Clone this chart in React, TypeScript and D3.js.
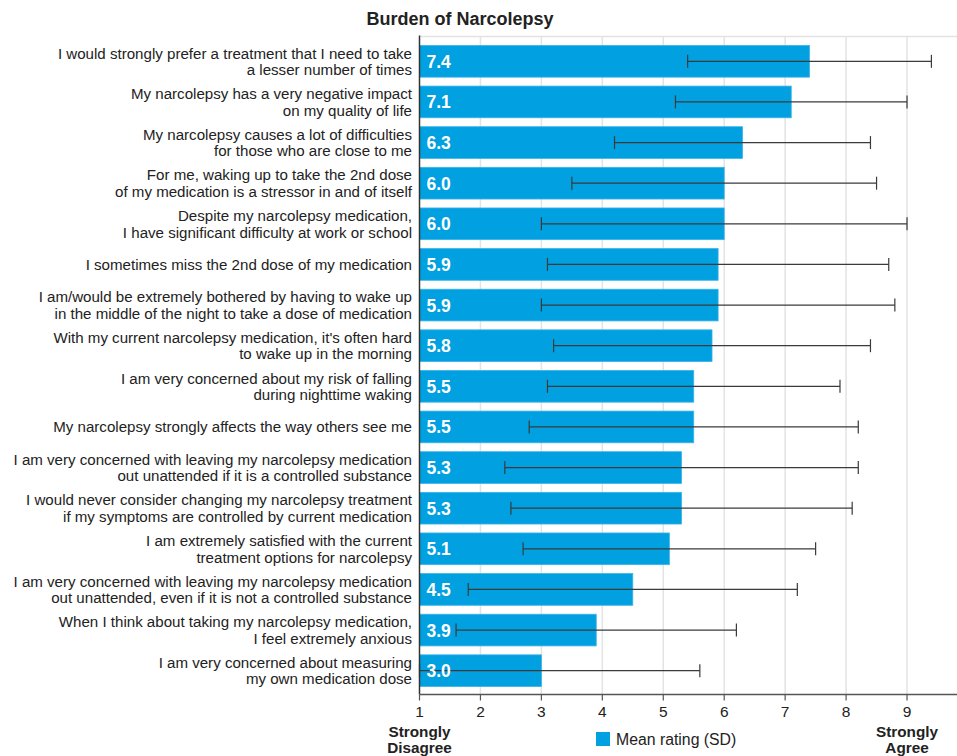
import React from "react";
import * as d3 from "d3";

const statements: string[][] = [
  ["I would strongly prefer a treatment that I need to take", "a lesser number of times"],
  ["My narcolepsy has a very negative impact", "on my quality of life"],
  ["My narcolepsy causes a lot of difficulties", "for those who are close to me"],
  ["For me, waking up to take the 2nd dose", "of my medication is a stressor in and of itself"],
  ["Despite my narcolepsy medication,", "I have significant difficulty at work or school"],
  ["I sometimes miss the 2nd dose of my medication"],
  ["I am/would be extremely bothered by having to wake up", "in the middle of the night to take a dose of medication"],
  ["With my current narcolepsy medication, it's often hard", "to wake up in the morning"],
  ["I am very concerned about my risk of falling", "during nighttime waking"],
  ["My narcolepsy strongly affects the way others see me"],
  ["I am very concerned with leaving my narcolepsy medication", "out unattended if it is a controlled substance"],
  ["I would never consider changing my narcolepsy treatment", "if my symptoms are controlled by current medication"],
  ["I am extremely satisfied with the current", "treatment options for narcolepsy"],
  ["I am very concerned with leaving my narcolepsy medication", "out unattended, even if it is not a controlled substance"],
  ["When I think about taking my narcolepsy medication,", "I feel extremely anxious"],
  ["I am very concerned about measuring", "my own medication dose"],
];

const meanRating: number[] = [7.4, 7.1, 6.3, 6.0, 6.0, 5.9, 5.9, 5.8, 5.5, 5.5, 5.3, 5.3, 5.1, 4.5, 3.9, 3.0];
const errLow: number[] = [5.4, 5.2, 4.2, 3.5, 3.0, 3.1, 3.0, 3.2, 3.1, 2.8, 2.4, 2.5, 2.7, 1.8, 1.6, 1.0];
const errHigh: number[] = [9.4, 9.0, 8.4, 8.5, 9.0, 8.7, 8.8, 8.4, 7.9, 8.2, 8.2, 8.1, 7.5, 7.2, 6.2, 5.6];
const xTicks: number[] = [1, 2, 3, 4, 5, 6, 7, 8, 9];

const title = "Burden of Narcolepsy";
const legendLabel = "Mean rating (SD)";
const leftAnchor = ["Strongly", "Disagree"];
const rightAnchor = ["Strongly", "Agree"];

const W = 957;
const H = 756;
const FONT = "'Liberation Sans', Arial, Helvetica, sans-serif";
const BLUE = "#00a0e1";

export default function App() {
  const plotLeft = 419.5;
  const plotRight = 957;
  const plotTop = 36.5;
  const plotBottom = 694.5;

  const x = d3.scaleLinear().domain([1, 9.82]).range([plotLeft, plotRight]);
  const idx = statements.map((_, i) => String(i));
  const y = d3
    .scaleBand<string>()
    .domain(idx)
    .range([41, 691])
    .paddingInner(0.22)
    .paddingOuter(0.11);

  const bw = y.bandwidth();

  return (
    <svg width={W} height={H} style={{ display: "block", position: "absolute", left: 0, top: 0 }} fontFamily={FONT}>
      <rect width={W} height={H} fill="#fff" />
      <text x={460} y={25} textAnchor="middle" fontWeight="bold" fontSize={18} fill="#222">
        {title}
      </text>

      {/* gridlines */}
      {xTicks.slice(1).map((t) => (
        <line key={"g" + t} x1={x(t)} x2={x(t)} y1={plotTop} y2={plotBottom} stroke="#e3e3e3" strokeWidth={1.5} />
      ))}
      <line x1={plotLeft} x2={plotRight} y1={plotTop} y2={plotTop} stroke="#e3e3e3" strokeWidth={1.5} />

      {/* bars */}
      {meanRating.map((v, i) => {
        const y0 = y(String(i))!;
        return (
          <g key={"b" + i}>
            <rect x={x(1)} y={y0} width={x(v) - x(1)} height={bw} fill={BLUE} stroke="#3ab3e8" strokeWidth={0.8} />
          </g>
        );
      })}

      {/* error bars */}
      {meanRating.map((v, i) => {
        const cy = y(String(i))! + bw / 2;
        const lo = x(errLow[i]);
        const hi = x(errHigh[i]);
        return (
          <g key={"e" + i} stroke="#3a3a3a" strokeWidth={1.2}>
            <line x1={lo} x2={hi} y1={cy} y2={cy} />
            <line x1={lo} x2={lo} y1={cy - 6.5} y2={cy + 6.5} />
            <line x1={hi} x2={hi} y1={cy - 6.5} y2={cy + 6.5} />
          </g>
        );
      })}

      {/* value labels */}
      {meanRating.map((v, i) => {
        const cy = y(String(i))! + bw / 2;
        return (
          <text key={"v" + i} x={x(1) + 7} y={cy + 6.5} fill="#fff" fontWeight="bold" fontSize={17.5}>
            {d3.format(".1f")(v)}
          </text>
        );
      })}

      {/* category labels */}
      {statements.map((lines, i) => {
        const cy = y(String(i))! + bw / 2;
        const n = lines.length;
        return (
          <text key={"c" + i} textAnchor="end" fontSize={15.1} fill="#222">
            {lines.map((ln, j) => (
              <tspan key={j} x={412} y={cy + 5.5 + (j - (n - 1) / 2) * 16.5}>
                {ln}
              </tspan>
            ))}
          </text>
        );
      })}

      {/* axes */}
      <line x1={plotLeft} x2={plotLeft} y1={plotTop - 1} y2={plotBottom} stroke="#333" strokeWidth={1.5} />
      <line x1={plotLeft} x2={plotRight} y1={plotBottom} y2={plotBottom} stroke="#555" strokeWidth={1.5} />
      {xTicks.map((t) => (
        <g key={"t" + t}>
          <line x1={x(t)} x2={x(t)} y1={plotBottom} y2={plotBottom + 6} stroke="#555" strokeWidth={1.2} />
          <text x={x(t)} y={717} textAnchor="middle" fontSize={15.5} fill="#222">
            {t}
          </text>
        </g>
      ))}

      {/* anchors */}
      <text textAnchor="middle" fontWeight="bold" fontSize={15.3} fill="#222">
        {leftAnchor.map((s, j) => (
          <tspan key={j} x={x(1)} y={737 + j * 16}>
            {s}
          </tspan>
        ))}
      </text>
      <text textAnchor="middle" fontWeight="bold" fontSize={15.3} fill="#222">
        {rightAnchor.map((s, j) => (
          <tspan key={j} x={x(9)} y={737 + j * 16}>
            {s}
          </tspan>
        ))}
      </text>

      {/* legend */}
      <rect x={596} y={732} width={14} height={14} fill={BLUE} />
      <text x={616} y={745} fontSize={15.8} fill="#222">
        {legendLabel}
      </text>
    </svg>
  );
}
